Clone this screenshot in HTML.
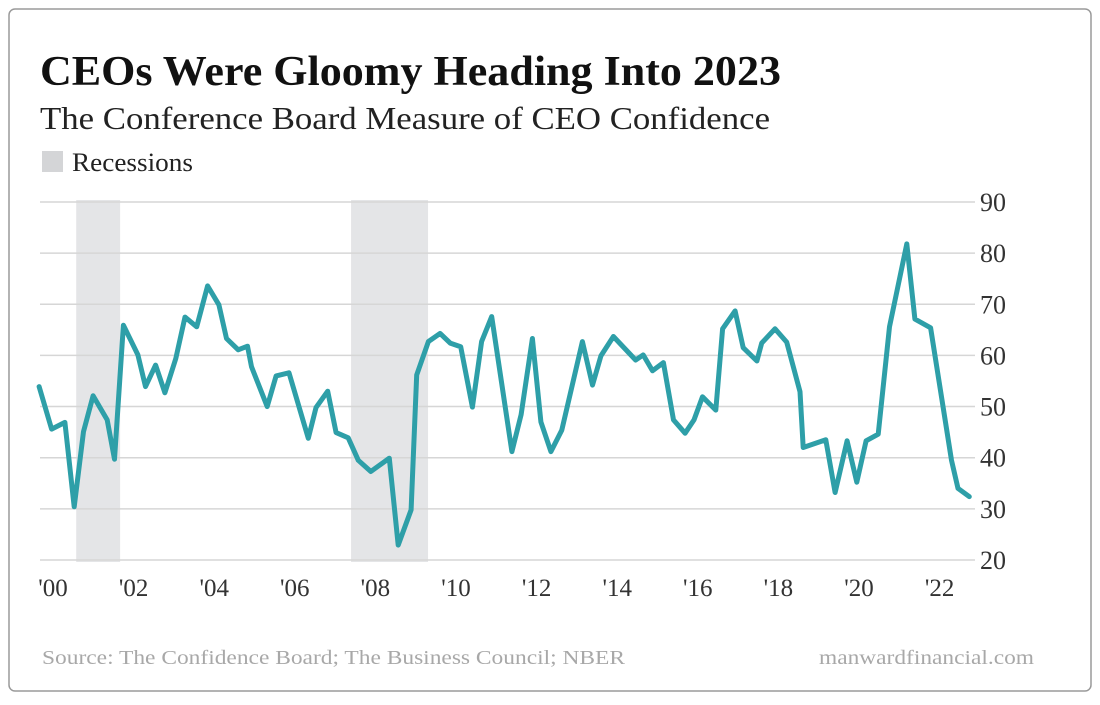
<!DOCTYPE html>
<html><head><meta charset="utf-8">
<style>
body{margin:0;background:#fff;width:1100px;height:700px;overflow:hidden;font-family:"Liberation Serif",serif}
</style></head>
<body>
<svg width="1100" height="700" xmlns="http://www.w3.org/2000/svg" font-family="Liberation Serif, serif">
<rect x="9" y="9" width="1082" height="682" rx="6" fill="#fff" stroke="#9a9a9a" stroke-width="1.5"/>
<text x="40" y="85" font-size="42" font-weight="bold" fill="#111" textLength="741" lengthAdjust="spacingAndGlyphs">CEOs Were Gloomy Heading Into 2023</text>
<text x="40" y="129" font-size="32" fill="#222" textLength="730" lengthAdjust="spacingAndGlyphs">The Conference Board Measure of CEO Confidence</text>
<rect x="42" y="151" width="21" height="21" fill="#d4d5d7"/>
<text x="72" y="171" font-size="26" fill="#222" textLength="121" lengthAdjust="spacingAndGlyphs">Recessions</text>
<g id="rec"></g><g id="grid"></g><g id="ylab"></g><g id="xlab"></g><g id="series"></g>
<text x="42" y="664" font-size="20" fill="#a8a8a8" textLength="583" lengthAdjust="spacingAndGlyphs">Source: The Confidence Board; The Business Council; NBER</text>
<text x="1034" y="664" font-size="20" fill="#a8a8a8" text-anchor="end" textLength="215" lengthAdjust="spacingAndGlyphs">manwardfinancial.com</text>
</svg>
<script>
const years=[-0.22,0.09,0.42,0.65,0.88,1.12,1.47,1.65,1.87,2.23,2.42,2.67,2.90,3.17,3.40,3.69,3.96,4.24,4.43,4.72,4.95,5.05,5.44,5.66,5.98,6.46,6.65,6.94,7.15,7.45,7.70,8.01,8.47,8.69,9.01,9.15,9.44,9.73,9.98,10.24,10.53,10.76,11.01,11.51,11.74,12.02,12.23,12.48,12.75,13.26,13.51,13.72,14.03,14.58,14.77,15.00,15.27,15.52,15.81,16.03,16.24,16.57,16.74,17.05,17.25,17.59,17.71,18.04,18.33,18.66,18.74,19.30,19.53,19.83,20.07,20.30,20.60,20.88,21.31,21.51,21.90,22.42,22.58,22.86];
const values=[53.9,45.6,46.9,30.4,45.1,52.1,47.4,39.7,65.9,60.1,53.9,58.1,52.7,59.4,67.5,65.6,73.6,69.9,63.3,61.1,61.8,57.8,50.0,56.0,56.6,43.8,49.8,53.0,44.9,43.9,39.5,37.3,39.9,22.9,29.8,56.2,62.7,64.3,62.4,61.7,49.9,62.7,67.6,41.2,48.4,63.3,47.0,41.2,45.4,62.7,54.2,59.9,63.7,59.1,60.1,57.0,58.6,47.4,44.8,47.4,51.9,49.3,65.2,68.7,61.5,58.9,62.4,65.2,62.6,52.9,42.0,43.5,33.2,43.3,35.2,43.3,44.6,65.6,81.8,67.1,65.4,39.5,34.0,32.4];
const recStart=[0.70,7.52];
const recEnd=[1.79,9.43];
const yTicks=[20,30,40,50,60,70,80,90];
const xTicks=[0,2,4,6,8,10,12,14,16,18,20,22];
const xTickLabels=["'00","'02","'04","'06","'08","'10","'12","'14","'16","'18","'20","'22"];
const X=t=>48+t*40.3;
const Y=v=>202+(90-v)*5.114;
const NS="http://www.w3.org/2000/svg";
function mk(tag,attrs,parent,txt){const e=document.createElementNS(NS,tag);for(const k in attrs)e.setAttribute(k,attrs[k]);if(txt!==undefined)e.textContent=txt;document.getElementById(parent).appendChild(e);return e;}
recStart.forEach((s,i)=>{const e=mk('rect',{x:X(s),y:200,width:X(recEnd[i])-X(s),height:362,fill:'#e4e5e7'},'rec');

});
yTicks.forEach(v=>{const l=mk('line',{x1:40,x2:975,y1:Y(v),y2:Y(v),stroke:'#d6d6d6','stroke-width':1.5},'grid');


const t=mk('text',{x:980,y:Y(v)+9,'font-size':26,fill:'#333'},'ylab',String(v));

});
xTicks.forEach((t,i)=>{const e=mk('text',{x:X(t)+5,y:596,'font-size':25,fill:'#333','text-anchor':'middle'},'xlab',xTickLabels[i]);

});
const d=years.map((t,i)=>(i?'L':'M')+X(t).toFixed(1)+' '+Y(values[i]).toFixed(1)).join(' ');
const p=mk('path',{d:d,fill:'none',stroke:'#2e9fa8','stroke-width':5,'stroke-linejoin':'round','stroke-linecap':'round'},'series');


</script>
</body></html>
